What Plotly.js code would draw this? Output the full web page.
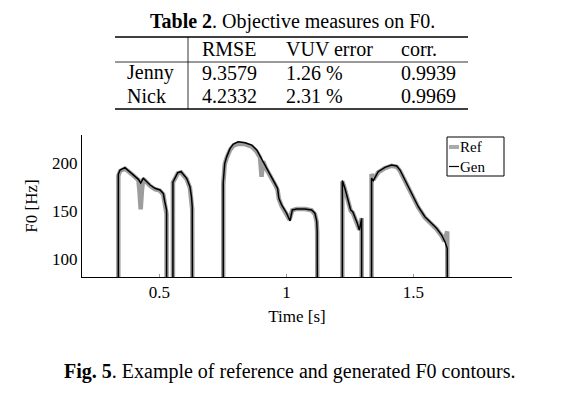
<!DOCTYPE html>
<html>
<head>
<meta charset="utf-8">
<script src="https://cdn.plot.ly/plotly-3.0.1.min.js"></script>
<style>
  html, body { margin: 0; padding: 0; background: #fff; }
  #chart { width: 572px; height: 398px; }
</style>
</head>
<body>
<div id="chart"></div>
<script>
// ---- Table data ----
const tableTitleBold = 'Table 2';
const tableTitleRest = '. Objective measures on F0.';
const tableColumns = ['RMSE', 'VUV error', 'corr.'];
const speakers = ['Jenny', 'Nick'];
const rmseValues = ['9.3579', '4.2332'];
const vuvValues = ['1.26 %', '2.31 %'];
const corrValues = ['0.9939', '0.9969'];

// ---- F0 contour data (time in s, F0 in Hz; 0 = unvoiced) ----
const refTime = [
  0.338, 0.338, 0.345, 0.364, 0.39, 0.417, 0.421, 0.426, 0.431, 0.436, 0.463, 0.482, 0.502, 0.515, 0.521, 0.524, 0.528, 0.528,
  0.553, 0.553, 0.572, 0.585, 0.607, 0.620, 0.626, 0.629, 0.630,
  0.751, 0.751, 0.753, 0.757, 0.765, 0.778, 0.791, 0.810, 0.837, 0.863, 0.883, 0.896, 0.902, 0.908, 0.922, 0.942, 0.955, 0.965, 0.970, 0.981, 1.001, 1.012, 1.023, 1.040, 1.073, 1.099, 1.112, 1.119, 1.121, 1.122,
  1.220, 1.220, 1.230, 1.243, 1.253, 1.261, 1.270, 1.279, 1.287, 1.292, 1.296, 1.296,
  1.335, 1.335, 1.342, 1.361, 1.388, 1.414, 1.434, 1.447, 1.467, 1.493, 1.519, 1.545, 1.565, 1.591, 1.611, 1.622, 1.633, 1.634
];
const refF0 = [
  0, 187, 192, 194.5, 189, 182.5, 172, 152, 172, 184, 176.5, 173, 171.5, 167.5, 158, 152, 147, 0,
  0, 180, 189.5, 190.5, 183.5, 174.5, 163, 152, 0,
  0, 178, 190, 199, 206, 214, 218.5, 220.5, 220, 217.5, 212, 206, 186, 202, 193.5, 185, 178, 172, 163, 155.5, 147, 141.5, 151, 152.5, 152.5, 151, 147, 139, 128, 0,
  0, 181, 173, 160.5, 150.5, 148.5, 143, 136, 131, 137, 143, 0,
  0, 189, 183, 190.5, 195, 197.5, 196.5, 192, 181.5, 167.5, 154, 143.5, 138.5, 131.5, 124.5, 119, 129, 0
];
const genTime = [
  0.338, 0.338, 0.345, 0.364, 0.39, 0.417, 0.426, 0.436, 0.463, 0.482, 0.502, 0.515, 0.521, 0.524, 0.528, 0.528,
  0.553, 0.553, 0.556, 0.572, 0.585, 0.607, 0.620, 0.626, 0.629, 0.630,
  0.751, 0.751, 0.753, 0.757, 0.765, 0.778, 0.791, 0.810, 0.837, 0.863, 0.883, 0.896, 0.909, 0.922, 0.942, 0.955, 0.965, 0.970, 0.981, 1.001, 1.014, 1.023, 1.040, 1.073, 1.099, 1.112, 1.119, 1.121, 1.122,
  1.220, 1.220, 1.230, 1.243, 1.253, 1.261, 1.270, 1.279, 1.287, 1.292, 1.296, 1.296,
  1.335, 1.335, 1.342, 1.361, 1.388, 1.414, 1.434, 1.447, 1.467, 1.493, 1.519, 1.545, 1.565, 1.591, 1.611, 1.624, 1.633, 1.634
];
const genF0 = [
  0, 188.6, 193, 195.5, 189.5, 183.3, 179.5, 184.4, 177.4, 174, 172.2, 168.7, 160, 156.6, 151.4, 0,
  0, 180.8, 182, 190.2, 191.3, 184.4, 175.6, 165, 155, 0,
  0, 180, 192, 200, 207, 215.6, 220, 222.5, 221.5, 219, 213.9, 207.6, 201.7, 194.8, 186, 179.2, 174, 163.5, 156.6, 147.9, 140, 151.4, 152.4, 152.4, 151.4, 148, 140, 130, 0,
  0, 182, 174, 162, 151.4, 149.6, 144.4, 137.5, 130.5, 135.7, 142.7, 0,
  0, 184.4, 181.9, 191.3, 195.8, 198.2, 197.2, 193, 182.6, 168.7, 154.8, 144.4, 139.2, 132.3, 125.3, 118.3, 111.5, 0
];
const seriesNames = ['Ref', 'Gen'];
const seriesColors = ['#9d9d9d', '#000000'];
const seriesWidths = [4.5, 1.5];
const xTickVals = [0.5, 1, 1.5];
const xTickText = ['0.5', '1', '1.5'];
const yTickVals = [100, 150, 200];
const yTickText = ['100', '150', '200'];

// ---- Layout geometry (pixels) ----
const W = 572, H = 398;
const M = { l: 82, r: 60, t: 135, b: 121 };
const PW = W - M.l - M.r, PH = H - M.t - M.b;
const PX = (px) => (px - M.l) / PW;          // pixel x -> paper x
const PY = (py) => (H - M.b - py) / PH;      // pixel y -> paper y

const serif = "'Liberation Serif', 'Times New Roman', Times, serif";

const traces = [
  {
    x: refTime, y: refF0, name: seriesNames[0], type: 'scatter', mode: 'lines',
    line: { color: seriesColors[0], width: seriesWidths[0] }, showlegend: false
  },
  {
    x: genTime, y: genF0, name: seriesNames[1], type: 'scatter', mode: 'lines',
    line: { color: seriesColors[1], width: seriesWidths[1] }, showlegend: false
  }
];

// Table text as annotations
const annotations = [];
const tfs = 20;
annotations.push({
  xref: 'paper', yref: 'paper', x: PX(292), y: PY(21), xanchor: 'center', yanchor: 'middle',
  text: '<b>' + tableTitleBold + '</b>' + tableTitleRest, showarrow: false,
  font: { family: serif, size: tfs, color: '#000' }
});
const colX = [200, 284, 399];
const headerY = 49, rowY = [73, 96];
tableColumns.forEach((c, i) => annotations.push({
  xref: 'paper', yref: 'paper', x: PX(colX[i]), y: PY(headerY), xanchor: 'left', yanchor: 'middle',
  text: c, showarrow: false, font: { family: serif, size: tfs, color: '#000' }
}));
const rowCols = [rmseValues, vuvValues, corrValues];
speakers.forEach((s, r) => {
  annotations.push({
    xref: 'paper', yref: 'paper', x: PX(125), y: PY(rowY[r]), xanchor: 'left', yanchor: 'middle',
    text: s, showarrow: false, font: { family: serif, size: tfs, color: '#000' }
  });
  rowCols.forEach((col, i) => annotations.push({
    xref: 'paper', yref: 'paper', x: PX(colX[i]), y: PY(rowY[r]), xanchor: 'left', yanchor: 'middle',
    text: col[r], showarrow: false, font: { family: serif, size: tfs, color: '#000' }
  }));
});
// Caption
annotations.push({
  xref: 'paper', yref: 'paper', x: PX(290), y: PY(371), xanchor: 'center', yanchor: 'middle',
  text: '<b>Fig. 5</b>. Example of reference and generated F0 contours.', showarrow: false,
  font: { family: serif, size: tfs, color: '#000' }
});

const hline = (x0, x1, y, w, c) => ({
  type: 'line', xref: 'paper', yref: 'paper', x0: PX(x0), x1: PX(x1), y0: PY(y), y1: PY(y),
  line: { color: c || '#000', width: w }
});
const shapes = [
  hline(115, 468, 37, 1.4),
  hline(115, 468, 62, 0.8),
  hline(115, 468, 109, 1.4),
  { type: 'line', xref: 'paper', yref: 'paper', x0: PX(188), x1: PX(188), y0: PY(37), y1: PY(109),
    line: { color: '#000', width: 0.8 } }
];

// Legend (box with short line samples, labels in one text block)
const legBox = { x0: 447, x1: 504, y0: 137, y1: 176 };
const legY = [147, 166.5];
shapes.push({
  type: 'rect', xref: 'paper', yref: 'paper',
  x0: PX(legBox.x0), x1: PX(legBox.x1), y0: PY(legBox.y1), y1: PY(legBox.y0),
  line: { color: '#000', width: 1 }, fillcolor: '#fff', layer: 'above'
});
seriesNames.forEach((n, i) => {
  const s = hline(449, 459, legY[i], i === 0 ? 4 : 1.2, i === 0 ? '#aaaaaa' : seriesColors[i]);
  s.layer = 'above';
  shapes.push(s);
});
annotations.push({
  xref: 'paper', yref: 'paper', x: PX(459), y: PY((legY[0] + legY[1]) / 2), xanchor: 'left', yanchor: 'middle',
  align: 'left', borderpad: 0,
  text: seriesNames.join('<br>'), showarrow: false, font: { family: serif, size: 15, color: '#000' }
});

const layout = {
  width: W, height: H,
  margin: M,
  paper_bgcolor: '#fff', plot_bgcolor: '#fff',
  font: { family: serif, size: 16, color: '#000' },
  showlegend: false,
  xaxis: {
    range: [0.195, 1.888],
    showline: true, linecolor: '#000', linewidth: 1,
    showgrid: false, zeroline: false,
    ticks: 'inside', ticklen: 3, tickcolor: '#999', tickwidth: 1,
    tickvals: xTickVals, ticktext: xTickText,
    tickfont: { family: serif, size: 17, color: '#000' },
    title: { text: 'Time [s]', font: { family: serif, size: 17, color: '#000' }, standoff: 8 }
  },
  yaxis: {
    range: [81.6, 229.5],
    showline: true, linecolor: '#000', linewidth: 1,
    showgrid: false, zeroline: false,
    ticks: '',
    tickvals: yTickVals, ticktext: yTickText,
    tickfont: { family: serif, size: 17, color: '#000' },
    title: { text: 'F0 [Hz]', font: { family: serif, size: 17, color: '#000' }, standoff: 10 }
  },
  annotations: annotations,
  shapes: shapes
};

Plotly.newPlot('chart', traces, layout, { displayModeBar: false, staticPlot: true });
</script>
</body>
</html>
